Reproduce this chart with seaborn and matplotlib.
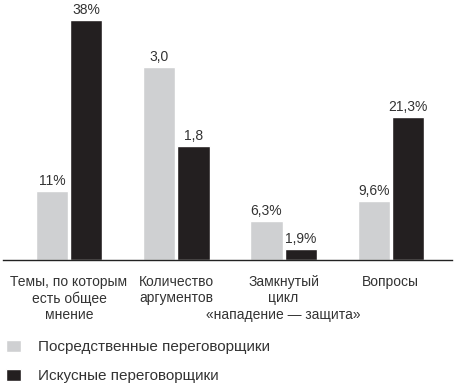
import matplotlib.pyplot as plt
import pandas as pd
import seaborn as sns
from matplotlib.patches import Patch

categories = [
    "Темы, по которым\nесть общее\nмнение",
    "Количество\nаргументов",
    "Замкнутый\nцикл\n«нападение — защита»",
    "Вопросы",
]
series_names = ["Посредственные переговорщики", "Искусные переговорщики"]

# bar heights as drawn in the picture (groups use different units)
mediocre_heights = [69, 193, 39, 59]
skilled_heights = [240, 114, 11, 143]
mediocre_labels = ["11%", "3,0", "6,3%", "9,6%"]
skilled_labels = ["38%", "1,8", "1,9%", "21,3%"]

GRAY = "#cfd0d2"
BLACK = "#231f20"
TEXT = "#333333"


def build_frame() -> pd.DataFrame:
    rows = []
    for name, heights in zip(series_names, [mediocre_heights, skilled_heights]):
        for cat, h in zip(categories, heights):
            rows.append({"category": cat, "group": name, "height": h})
    return pd.DataFrame(rows)


def main() -> None:
    sns.set_theme(style="white")
    plt.rcParams["font.family"] = ["Liberation Sans", "DejaVu Sans"]

    df = build_frame()
    fig = plt.figure(figsize=(4.64, 3.87), dpi=100)
    ax = fig.add_axes([3 / 464, 127 / 387, 449 / 464, 260 / 387])

    sns.barplot(
        data=df,
        x="category",
        y="height",
        hue="group",
        hue_order=series_names,
        palette=[GRAY, BLACK],
        width=0.64,
        gap=0.06,
        saturation=1,
        legend=False,
        ax=ax,
    )

    for container, labels in zip(ax.containers, [mediocre_labels, skilled_labels]):
        ax.bar_label(container, labels=labels, padding=2.5, fontsize=10, color=TEXT)

    ax.set_xlim(-0.615, 3.57)
    ax.set_ylim(0, 260)
    ax.set_xlabel("")
    ax.set_ylabel("")
    ax.set_yticks([])
    ax.tick_params(axis="x", length=0, pad=11, labelsize=10, labelcolor=TEXT)
    for side in ["top", "right", "left"]:
        ax.spines[side].set_visible(False)
    ax.spines["bottom"].set_color("#222222")
    ax.spines["bottom"].set_linewidth(1.0)

    handles = [Patch(facecolor=GRAY), Patch(facecolor=BLACK)]
    fig.legend(
        handles,
        series_names,
        loc="upper left",
        bbox_to_anchor=(0.0, 1 - 334 / 387),
        frameon=False,
        fontsize=11,
        handlelength=1.0,
        handleheight=0.85,
        handletextpad=1.1,
        labelspacing=0.95,
        labelcolor=TEXT,
        borderaxespad=0,
        borderpad=0.4,
    )

    fig.savefig("out.png", dpi=100)
    plt.close(fig)


if __name__ == "__main__":
    main()
